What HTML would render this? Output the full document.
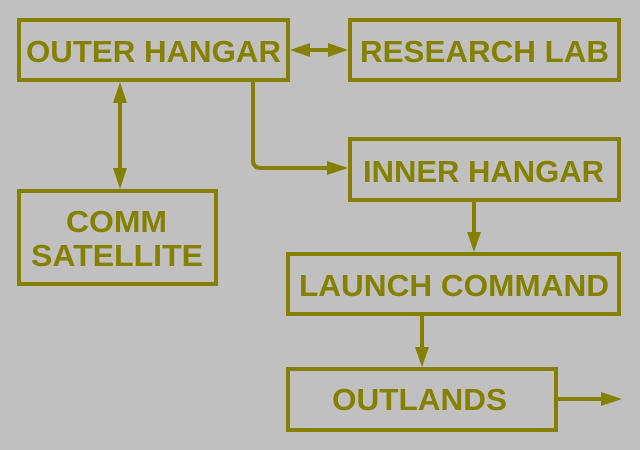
<!DOCTYPE html>
<html>
<head>
<meta charset="utf-8">
<style>
  html, body { margin: 0; padding: 0; background: #c0c0c0; }
  svg { display: block; }
  text { font-family: "Liberation Sans", Arial, sans-serif; font-weight: bold; font-size: 31px; fill: #868000; }
</style>
</head>
<body>
<svg width="640" height="450" viewBox="0 0 640 450" xmlns="http://www.w3.org/2000/svg">
  <rect x="0" y="0" width="640" height="450" fill="#c0c0c0"/>
  <g fill="none" stroke="#868000" stroke-width="4">
    <rect x="19" y="20" width="269" height="60"/>
    <rect x="350" y="20" width="269" height="60"/>
    <rect x="350" y="139" width="269" height="61"/>
    <rect x="19" y="191" width="197" height="93"/>
    <rect x="288" y="254" width="331" height="60"/>
    <rect x="288" y="369" width="268" height="61"/>
    <!-- connectors -->
    <line x1="300" y1="50" x2="338" y2="50"/>
    <line x1="120" y1="92" x2="120" y2="179"/>
    <path d="M253,82 V160 Q253,168 261,168 H335"/>
    <line x1="474" y1="202" x2="474" y2="240"/>
    <line x1="422" y1="316" x2="422" y2="355"/>
    <line x1="558" y1="399" x2="610" y2="399"/>
  </g>
  <g fill="#868000">
    <polygon points="290,50 310,43 310,57"/>
    <polygon points="348,50 328,43 328,57"/>
    <polygon points="120,82 113,103 127,103"/>
    <polygon points="120,189 113,168 127,168"/>
    <polygon points="348,168 327,161 327,175"/>
    <polygon points="474,252 467,232 481,232"/>
    <polygon points="422,367 415,347 429,347"/>
    <polygon points="622,399 601,392 601,406"/>
  </g>
  <text x="26" y="62" textLength="255" lengthAdjust="spacingAndGlyphs">OUTER HANGAR</text>
  <text x="360" y="62" textLength="249" lengthAdjust="spacingAndGlyphs">RESEARCH LAB</text>
  <text x="363" y="182" textLength="241" lengthAdjust="spacingAndGlyphs">INNER HANGAR</text>
  <text x="66" y="232" textLength="101" lengthAdjust="spacingAndGlyphs">COMM</text>
  <text x="31" y="266" textLength="172" lengthAdjust="spacingAndGlyphs">SATELLITE</text>
  <text x="299" y="296" textLength="310" lengthAdjust="spacingAndGlyphs">LAUNCH COMMAND</text>
  <text x="332" y="410" textLength="175" lengthAdjust="spacingAndGlyphs">OUTLANDS</text>
</svg>
</body>
</html>
